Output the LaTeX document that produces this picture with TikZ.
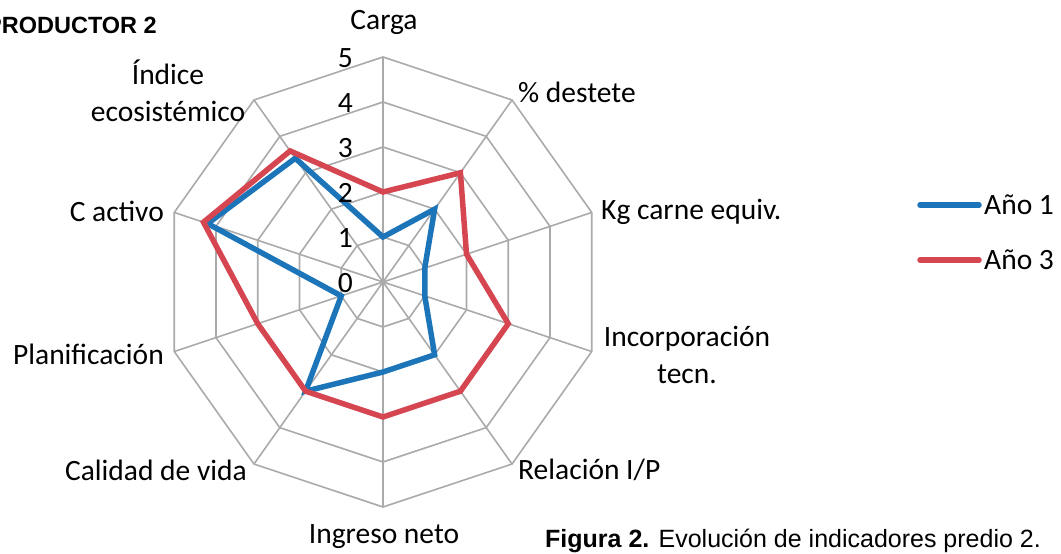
\documentclass[tikz,border=0pt]{standalone}
\usepackage{fontspec}
\setmainfont{Carlito}
\newfontfamily\arialfont{Liberation Sans}
\usepackage{tikz}
\definecolor{azulA}{RGB}{27,117,184}
\definecolor{rojoA}{RGB}{214,70,80}
\definecolor{grisA}{RGB}{170,170,170}

\begin{document}
\begin{tikzpicture}[x=1pt, y=1pt,
		gridline/.style={grisA, line width=1.6pt},
		ano1/.style={azulA, line width=5.5pt, line join=miter},
		ano3/.style={rojoA, line width=5.5pt, line join=miter},
		lbl/.style={font=\fontsize{29.5}{37}\selectfont, inner sep=0pt, align=center}]
				\useasboundingbox (0,0) rectangle (1061,554);
				% radar: 1 unidad = 45pt
				\begin{scope}[shift={(383,272)}, x=43.9pt, y=45pt]
				\foreach \r in {1,...,5}
				\draw [gridline] (90:\r) -- (54:\r) -- (18:\r) -- (-18:\r) -- (-54:\r) -- (-90:\r) -- (-126:\r) -- (-162:\r) -- (162:\r) -- (126:\r) -- cycle;
				\foreach \k in {0,...,9}
				\draw [gridline] (0,0) -- (90-36*\k:5);
				\draw [ano1] (90:1) -- (54:2) -- (18:1) -- (-18:1) -- (-54:2) -- (-90:2) -- (-126:3) -- (-162:1) -- (162:4.2) -- (126:3.4) -- cycle;
				\draw [ano3] (90:2) -- (54:3) -- (18:2) -- (-18:3) -- (-54:3) -- (-90:3) -- (-126:3) -- (-162:3) -- (162:4.3) -- (126:3.6) -- cycle;
				\end{scope}
				% escala
				\foreach \v in {0,...,5}
				\node [lbl, anchor=east] (t\v) at (353,271+45*\v) {\v};
				% ejes
				\node [lbl] (carga) at (384,532) {Carga};
				\node [lbl, anchor=west] (destete) at (518,462) {\% destete};
				\node [lbl, anchor=west] (kgcarne) at (601,342) {Kg carne equiv.};
				\node [lbl] (incorp) at (687,199) {Incorporación\\tecn.};
				\node [lbl, anchor=west] (relip) at (518,84) {Relación I/P};
				\node [lbl] (ingreso) at (384,17) {Ingreso neto};
				\node [lbl, anchor=east] (calidad) at (247,84) {Calidad de vida};
				\node [lbl, anchor=east] (planif) at (164,200) {Planificación};
				\node [lbl, anchor=east] (cactivo) at (164,343) {C activo};
				\node [lbl] (indice) at (168,463) {Índice\\ecosistémico};
				% leyenda
				\coordinate (l1a) at (920,349);
				\coordinate (l1b) at (979,349);
				\coordinate (l3a) at (920,294);
				\coordinate (l3b) at (979,294);
				\draw [ano1, line cap=round] (l1a) -- (l1b);
				\draw [ano3, line cap=round] (l3a) -- (l3b);
				\node [lbl, anchor=west] (ley1) at (984,349) {Año 1};
				\node [lbl, anchor=west] (ley3) at (984,294) {Año 3};
				% titulo y pie
				\node [anchor=east, inner sep=0pt, font=\arialfont\bfseries\fontsize{23.5}{28}\selectfont] (titulo) at (157,529) {PRODUCTOR 2};
				\node [anchor=west, inner sep=0pt, font=\arialfont\fontsize{25}{30}\selectfont] (pie) at (545,13) {\textbf{Figura 2.} Evolución de indicadores predio 2.};
			\end{tikzpicture}
\end{document}
